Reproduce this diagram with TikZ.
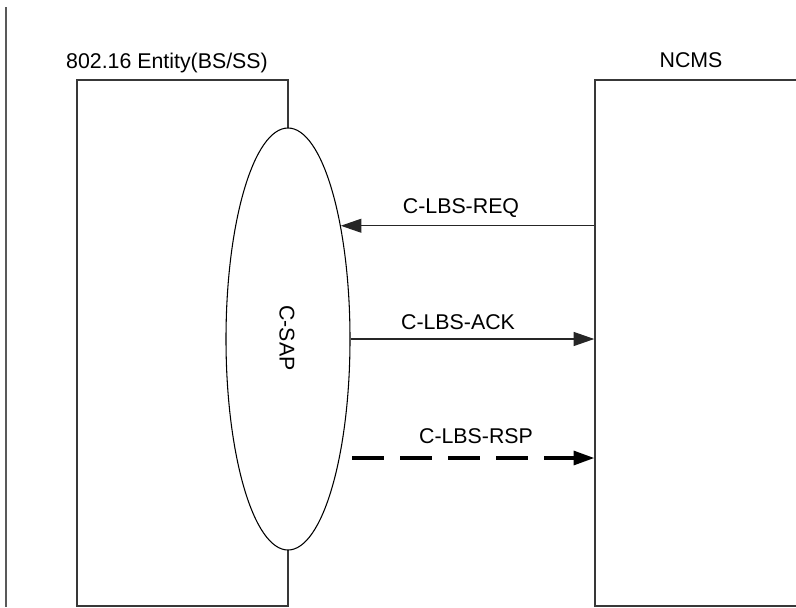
\documentclass[tikz,border=0pt]{standalone}
\usepackage{fontspec}
\setmainfont{Liberation Sans}
\usetikzlibrary{shapes.geometric,arrows.meta}
\begin{document}
\begin{tikzpicture}[x=0.75pt,y=-0.75pt,
  boxline/.style={draw=black!78,line width=1.1pt},
  lbl/.style={font=\fontsize{16pt}{18pt}\selectfont,anchor=base,inner sep=0pt},
  msg/.style={draw=black!85,line width=0.9pt,-{Triangle[length=15.5pt,width=10.5pt]}},
  dashmsg/.style={draw=black,line width=2.3pt,dash pattern=on 24pt off 12pt,-{Triangle[length=15.5pt,width=10.5pt]}},
  sap/.style={ellipse,draw=black,fill=white,line width=0.8pt,minimum width=124*0.75pt,minimum height=422*0.75pt,inner sep=0pt}]
\useasboundingbox (0,0) rectangle (796,607);
\clip (0,0) rectangle (796,607);
% left margin line
\coordinate (mt) at (6,7);
\coordinate (mb) at (6,607);
\draw[draw=black!65,line width=1.2pt] (mt) -- (mb);
% boxes
\node[boxline,rectangle,minimum width=211*0.75pt,minimum height=526*0.75pt,inner sep=0pt] (ent) at (182.5,343) {};
\node[boxline,rectangle,minimum width=320*0.75pt,minimum height=526*0.75pt,inner sep=0pt] (ncms) at (755,343) {};
% titles
\node[lbl] (entlbl) at (167,68) {802.16 Entity(BS/SS)};
\node[lbl] (ncmslbl) at (691,67) {NCMS};
% service access point
\node[sap] (csap) at (288,339) {};
\node[font=\fontsize{16pt}{18pt}\selectfont,rotate=-90,inner sep=0pt] (csaplbl) at (287,338) {C-SAP};
% messages
\draw[msg] (ncms.west |- csap.65.9) -- (csap.65.9);
\node[lbl] (reqlbl) at (461,213) {C-LBS-REQ};
\draw[msg] (csap.east) -- (ncms.west |- csap.east);
\node[lbl] (acklbl) at (458,329) {C-LBS-ACK};
\coordinate (rsps) at (352,458);
\draw[dashmsg] (rsps) -- (ncms.west |- rsps);
\node[lbl] (rsplbl) at (476,443) {C-LBS-RSP};
\end{tikzpicture}
\end{document}
